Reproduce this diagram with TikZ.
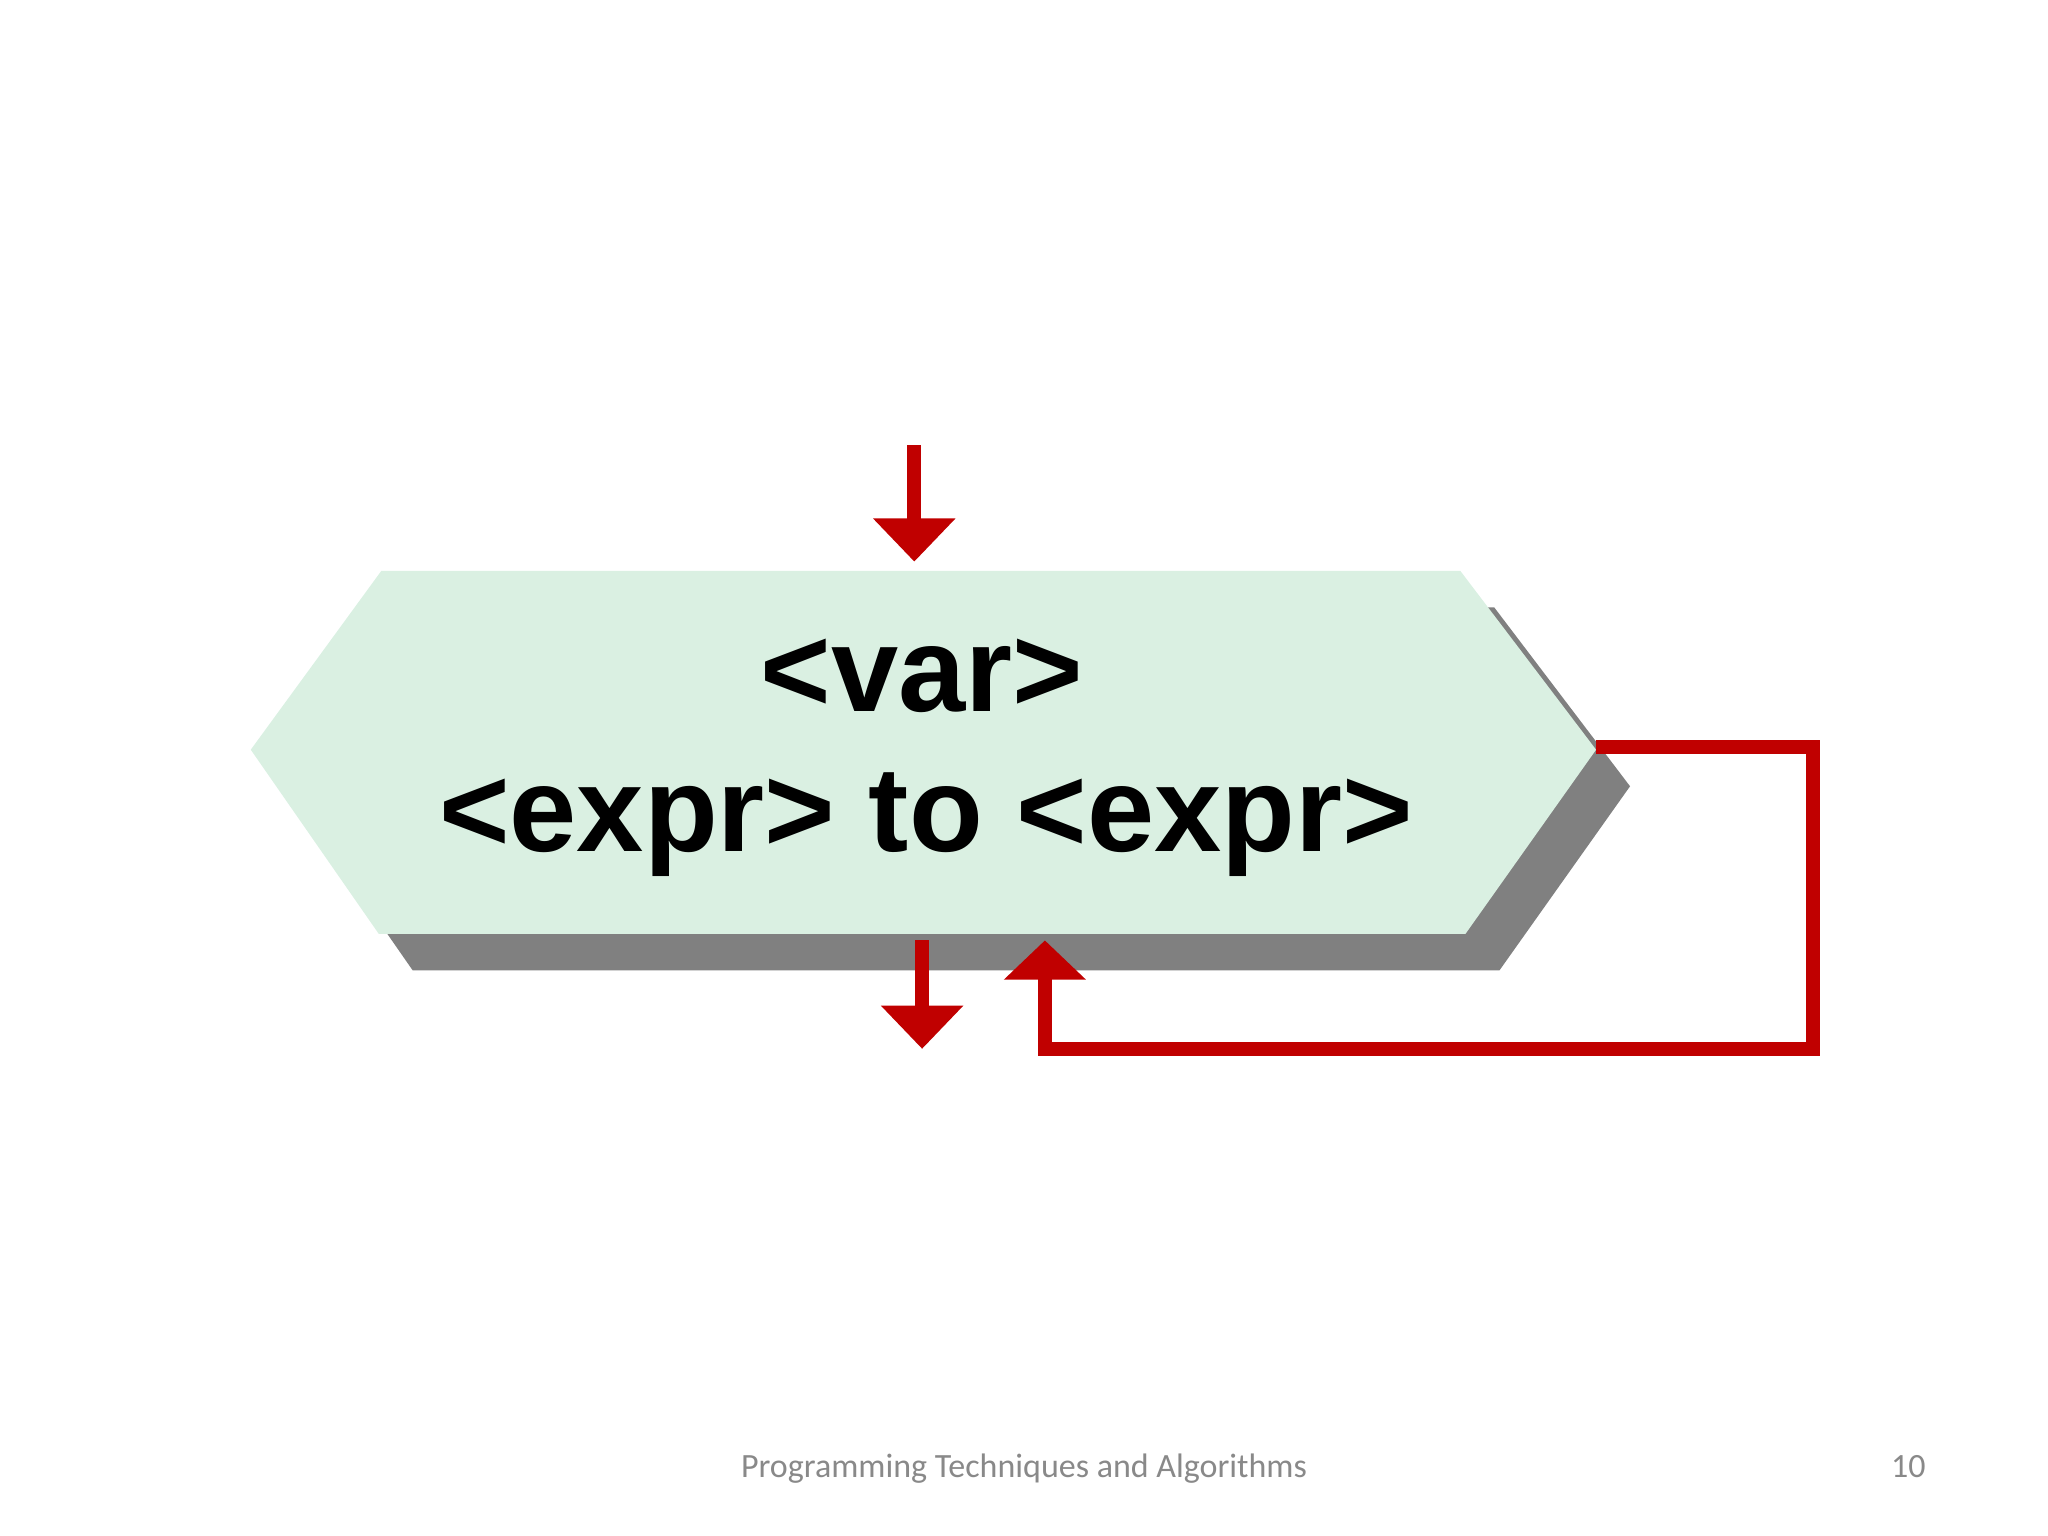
\documentclass[tikz,border=0pt]{standalone}
\usepackage{fontspec}
\setmainfont{Liberation Sans}
\newfontfamily\footfont{Carlito}
\usetikzlibrary{arrows.meta}
\definecolor{flowred}{HTML}{C00000}
\definecolor{loopgreen}{HTML}{DAF0E2}
\definecolor{shadegray}{HTML}{808080}
\definecolor{footgray}{HTML}{898989}
\tikzstyle{flow}=[draw=flowred, line width=0.11cm, -{Triangle[width=0.61cm, length=0.33cm]}]
\tikzstyle{looptext}=[anchor=base, inner sep=0pt, font=\bfseries\fontsize{26.3}{30.4}\selectfont]
\tikzstyle{foot}=[anchor=base, inner sep=0pt, text=footgray, font=\footfont\fontsize{7.4}{9}\selectfont]

\begin{document}
\begin{tikzpicture}[x=0.01cm, y=-0.01cm]
        \useasboundingbox (0,0) rectangle (1568,1176);
        \fill[shadegray, shift={(26,28)}] (292,437) -- (1118,437) -- (1222,574) -- (1122,715) -- (290,715) -- (192,574) -- cycle;
        \fill[loopgreen] (292,437) -- (1118,437) -- (1222,574) -- (1122,715) -- (290,715) -- (192,574) -- cycle;
        \coordinate (top) at (700,437);
        \coordinate (bottom) at (706,715);
        \coordinate (tip) at (1222,572);
        \coordinate (in) at (700,341);
        \coordinate (out) at (706,803);
        \coordinate (back) at (800,720);
        \node[looptext] (var) at (706,545) {<var>};
        \node[looptext] (range) at (709,652) {<expr> to <expr>};
        \draw[flow, shorten >=0.07cm] (in) -- (top);
        \draw[flow, shorten <=0.05cm] (bottom) -- (out);
        \draw[flow, -{Triangle[width=0.61cm, length=0.30cm]}] (tip) -- (1388,572) -- (1388,803) -- (back |- 1388,803) -- (back);
        \node[foot] (title) at (784,1131) {Programming Techniques and Algorithms};
        \node[foot] (page) at (1461,1131) {10};
    \end{tikzpicture}
\end{document}
